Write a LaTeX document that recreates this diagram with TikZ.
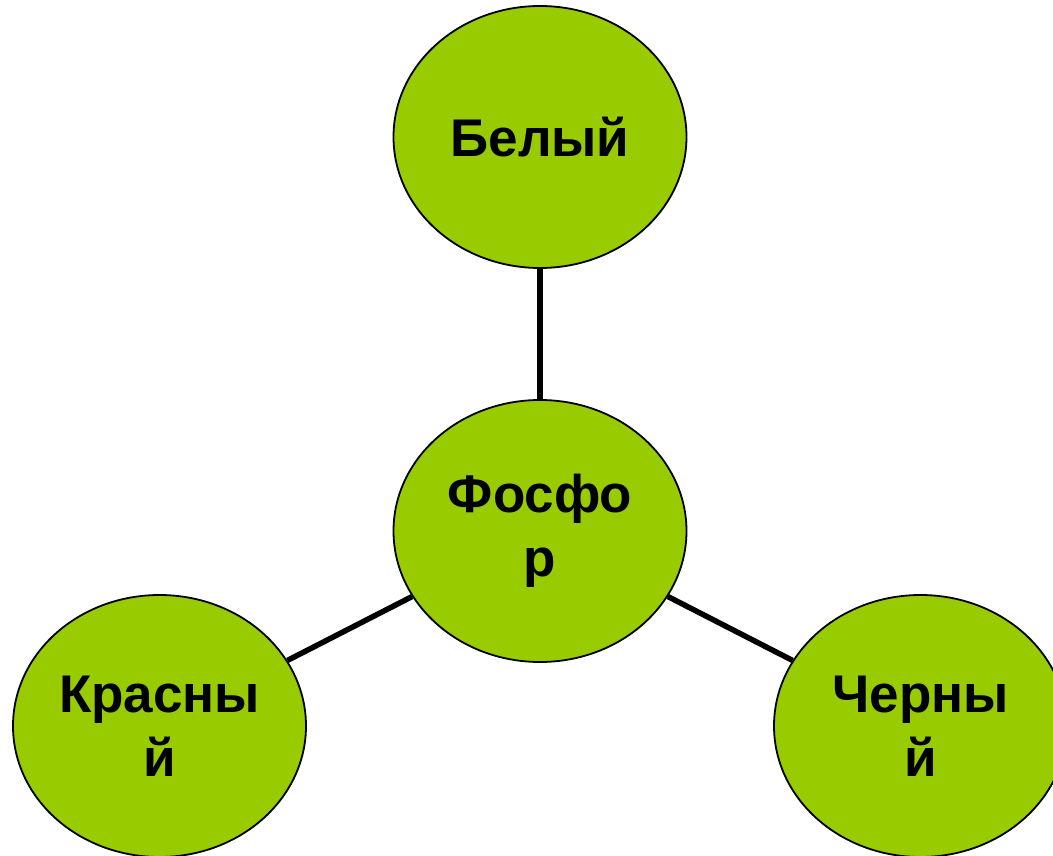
\documentclass[tikz,border=0pt]{standalone}
\usepackage{fontspec}
\setmainfont{Liberation Sans}
\usetikzlibrary{shapes.geometric}
\definecolor{leaf}{HTML}{99CC00}
\begin{document}
\begin{tikzpicture}[x=1pt,y=-1pt,
  blob/.style={ellipse,draw=black,line width=1.8pt,fill=leaf,
    minimum width=293pt,minimum height=262pt,inner sep=0pt,
    align=center,font=\bfseries\fontsize{53}{64}\selectfont},
  link/.style={line width=5.5pt,black}]
\useasboundingbox (0,0) rectangle (1053,856);
\node[blob] (w) at (540,137) {Белый};
\node[blob] (p) at (540,531) {Фосфо\\р};
\node[blob] (r) at (159.5,726) {Красны\\й};
\node[blob] (b) at (920.5,726) {Черны\\й};
\draw[link] (w) -- (p);
\draw[link] (r) -- (p);
\draw[link] (b) -- (p);
\end{tikzpicture}
\end{document}
